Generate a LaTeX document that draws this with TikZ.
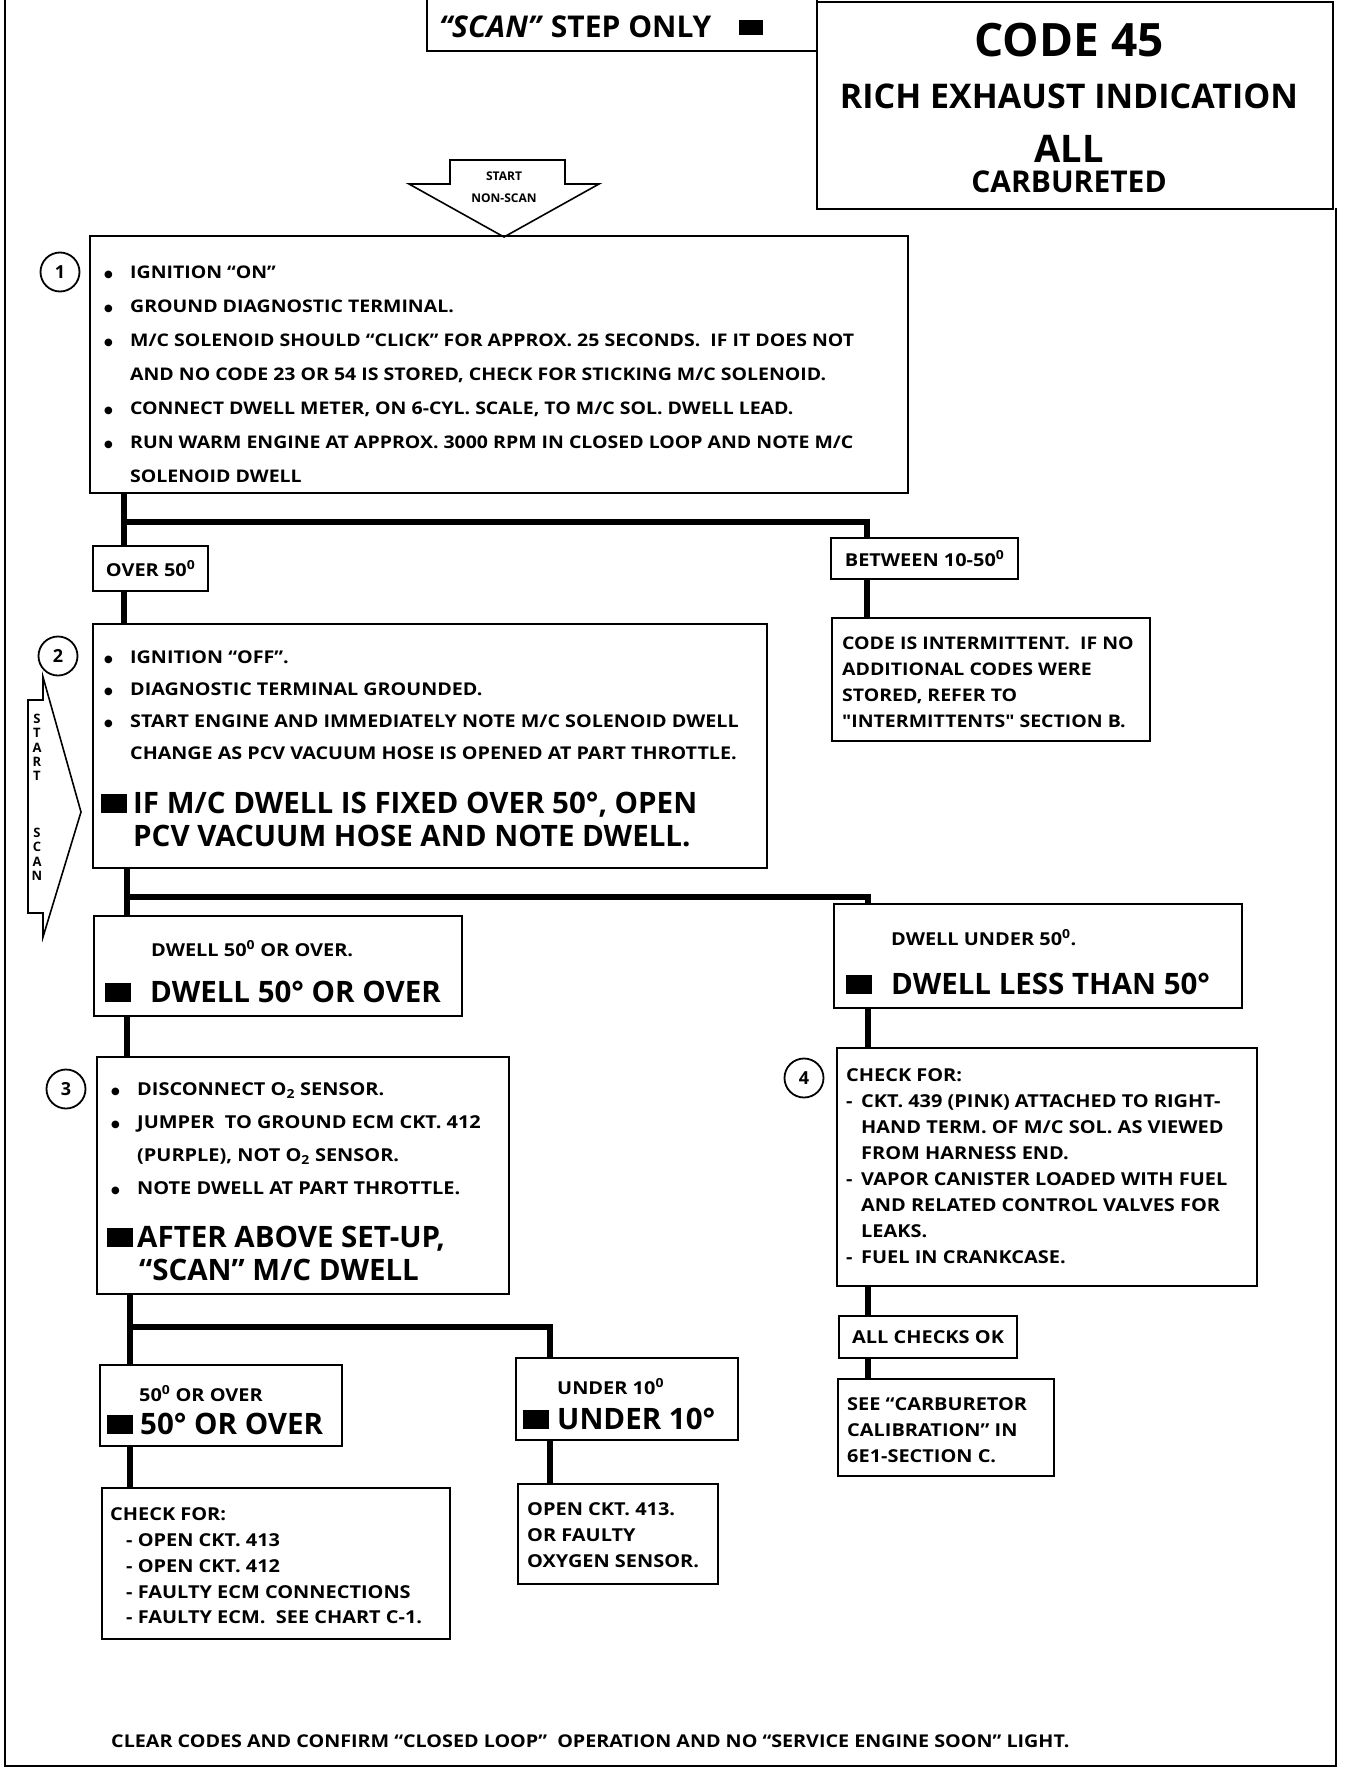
\documentclass[tikz,border=0pt]{standalone}
\usepackage{fontspec}
\setmainfont{Open Sans}
\newfontfamily\widesans{Open Sans}[FakeStretch=1.12]
\newfontfamily\symfont{DejaVu Sans}
\usetikzlibrary{positioning}
\newcommand\cfz[2]{\bfseries\fontsize{#1}{#2}\selectfont}
\newcommand\wfz[2]{\widesans\bfseries\fontsize{#1}{#2}\selectfont}
\newcommand\cbul{\makebox[26pt][l]{\raisebox{1pt}{\symfont\fontsize{10}{10}\selectfont ●}}}
\newcommand\cind{\makebox[26pt]{}}
\newcommand\cdash{\makebox[15pt][l]{-}}
\newcommand\cblk{\rule{26pt}{19pt}}
\newcommand\cdeg{\textsuperscript{0}}

\begin{document}
\begin{tikzpicture}[x=1pt,y=-1pt,
    frame/.style={draw,line width=2.2pt,inner sep=0pt,anchor=north west},
    lbl/.style={anchor=north west,align=left,inner sep=0pt,font=\wfz{17.8}{34}},
    big/.style={anchor=north west,align=left,inner sep=0pt,font=\cfz{29.5}{33}},
    num/.style={draw,circle,line width=1.8pt,minimum size=39pt,inner sep=0pt,font=\cfz{18}{18}},
    link/.style={line width=6pt},
    outline/.style={line width=1.6pt,line join=miter}
  ]
  \useasboundingbox (0,0) rectangle (1344,1772);

  % header
  \node[frame,minimum width=390pt,minimum height=53pt] (scanbox) at (426,-3) {};
  \node[anchor=west,inner sep=0pt,font=\cfz{30}{30}] (scantxt) at (439,27)
    {\textit{“SCAN”} STEP ONLY\hspace{28pt}\raisebox{3pt}{\rule{24pt}{15pt}}};
  \node[frame,minimum width=516pt,minimum height=207pt] (title) at (816,1) {};
  \node[font=\cfz{46}{46}] (code) at (1069,40) {CODE 45};
  \node[font=\cfz{34}{34}] (rich) at (1069,96) {RICH EXHAUST INDICATION};
  \node[font=\cfz{38}{38}] (all) at (1069,149) {ALL};
  \node[font=\cfz{30}{30}] (carb) at (1069,182) {CARBURETED};
  \draw[line width=2.5pt] (5,0) -- (5,1766) -- (1336,1766) -- (1336,208);

  % start arrows
  \draw[outline] (450,184) -- (450,160) -- (565,160) -- (565,184) -- (599,184)
    -- (504,237) -- (409,184) -- cycle;
  \node[font=\cfz{12}{12}] (start) at (504,176) {START};
  \node[font=\cfz{12}{12}] (nonscan) at (504,198) {NON-SCAN};
  \draw[outline] (43,677) -- (43,700) -- (28,700) -- (28,913) -- (43,913)
    -- (43,937) -- (81,812) -- cycle;
  \node[anchor=north,align=center,inner sep=0pt,font=\cfz{13}{14.2}] (scan) at (37,714)
    {S\\T\\A\\R\\T\\[43pt]S\\C\\A\\N};

  % step 1
  \node[frame,minimum width=818pt,minimum height=257pt] (s1) at (89,235) {};
  \node[num] (n1) at (60,272) {1};
  \node[lbl,font=\wfz{17.4}{34}] (t1) at (104,265.8) {\cbul IGNITION “ON”\\
    \cbul GROUND DIAGNOSTIC TERMINAL.\\
    \cbul M/C SOLENOID SHOULD “CLICK” FOR APPROX. 25 SECONDS.\ \ IF IT DOES NOT\\
    \cind AND NO CODE 23 OR 54 IS STORED, CHECK FOR STICKING M/C SOLENOID.\\
    \cbul CONNECT DWELL METER, ON 6-CYL. SCALE, TO M/C SOL. DWELL LEAD.\\
    \cbul RUN WARM ENGINE AT APPROX. 3000 RPM IN CLOSED LOOP AND NOTE M/C\\
    \cind SOLENOID DWELL};
  \coordinate (j1) at (124,522);
  \coordinate (j1r) at (867,522);
  \node[frame,minimum width=115pt,minimum height=45pt,font=\wfz{17.8}{18}] (over) at (92,545) {OVER 50\cdeg};
  \node[frame,minimum width=187pt,minimum height=41pt,font=\wfz{17.8}{18}] (betw) at (830,537) {BETWEEN 10-50\cdeg};
  \node[frame,minimum width=318pt,minimum height=123pt] (inter) at (831,617) {};
  \node[lbl,font=\wfz{17.4}{26}] (tint) at (842,636.6) {CODE IS INTERMITTENT.\ \ IF NO\\
    ADDITIONAL CODES WERE\\STORED, REFER TO\\"INTERMITTENTS" SECTION B.};
  \draw[link] (s1.south -| j1) -- (over.north -| j1);
  \draw[link] (j1) -- (j1r) -- (betw.north -| j1r);
  \draw[link] (betw.south -| j1r) -- (inter.north -| j1r);

  % step 2
  \node[frame,minimum width=674pt,minimum height=244pt] (s2) at (92,623) {};
  \node[num] (n2) at (58,656) {2};
  \node[lbl,font=\wfz{17.6}{32}] (t2) at (104,650.6) {\cbul IGNITION “OFF”.\\
    \cbul DIAGNOSTIC TERMINAL GROUNDED.\\
    \cbul START ENGINE AND IMMEDIATELY NOTE M/C SOLENOID DWELL\\
    \cind CHANGE AS PCV VACUUM HOSE IS OPENED AT PART THROTTLE.};
  \node[big] (t2b) at (101,791.6) {\makebox[32pt][l]{\cblk}IF M/C DWELL IS FIXED OVER 50°, OPEN\\
    \makebox[32pt]{}PCV VACUUM HOSE AND NOTE DWELL.};
  \draw[link] (over.south -| j1) -- (s2.north -| j1);
  \coordinate (j2) at (127,897);
  \coordinate (j2r) at (868,897);
  \node[frame,minimum width=368pt,minimum height=100pt] (d50) at (93,915) {};
  \node[lbl] (d50a) at (151,940.6) {DWELL 50\cdeg{} OR OVER.};
  \node[big] (d50b) at (105,980.6) {\makebox[45pt][l]{\cblk}DWELL 50° OR OVER};
  \node[frame,minimum width=408pt,minimum height=104pt] (dlt) at (833,903) {};
  \node[lbl] (dlta) at (891,929.6) {DWELL UNDER 50\cdeg.};
  \node[big] (dltb) at (846,972.6) {\makebox[45pt][l]{\cblk}DWELL LESS THAN 50°};
  \draw[link] (s2.south -| j2) -- (d50.north -| j2);
  \draw[link] (j2) -- (j2r) -- (dlt.north -| j2r);

  % step 3
  \node[frame,minimum width=412pt,minimum height=237pt] (s3) at (96,1056) {};
  \node[num] (n3) at (66,1089) {3};
  \node[lbl,font=\wfz{17.8}{33}] (t3) at (111,1082.6) {\cbul DISCONNECT O\textsubscript{2} SENSOR.\\
    \cbul JUMPER\ \ TO GROUND ECM CKT. 412\\
    \cind (PURPLE), NOT O\textsubscript{2} SENSOR.\\
    \cbul NOTE DWELL AT PART THROTTLE.};
  \node[big] (t3b) at (107,1225.6) {\makebox[30pt][l]{\cblk}AFTER ABOVE SET-UP,\\
    \makebox[32pt]{}“SCAN” M/C DWELL};
  \draw[link] (d50.south -| j2) -- (s3.north -| j2);
  \coordinate (j3) at (130,1327);
  \coordinate (j3r) at (550,1327);
  \node[frame,minimum width=242pt,minimum height=81pt] (o50) at (99,1364) {};
  \node[lbl] (o50a) at (139,1385.6) {50\cdeg{} OR OVER};
  \node[big] (o50b) at (107,1412.6) {\makebox[33pt][l]{\cblk}50° OR OVER};
  \node[frame,minimum width=222pt,minimum height=82pt] (u10) at (515,1357) {};
  \node[lbl] (u10a) at (557,1378.6) {UNDER 10\cdeg};
  \node[big] (u10b) at (523,1407.6) {\makebox[34pt][l]{\cblk}UNDER 10°};
  \node[frame,minimum width=348pt,minimum height=151pt] (chk) at (101,1487) {};
  \node[lbl,font=\wfz{17.8}{25.8}] (tchk) at (110,1507.6) {CHECK FOR:\\
    \makebox[16pt]{}- OPEN CKT. 413\\
    \makebox[16pt]{}- OPEN CKT. 412\\
    \makebox[16pt]{}- FAULTY ECM CONNECTIONS\\
    \makebox[16pt]{}- FAULTY ECM.\ \ SEE CHART C-1.};
  \node[frame,minimum width=200pt,minimum height=100pt] (ock) at (517,1483) {};
  \node[lbl,font=\wfz{17.8}{26}] (tock) at (527,1502.6) {OPEN CKT. 413.\\OR FAULTY\\OXYGEN SENSOR.};
  \draw[link] (s3.south -| j3) -- (o50.north -| j3);
  \draw[link] (j3) -- (j3r) -- (u10.north -| j3r);
  \draw[link] (o50.south -| j3) -- (chk.north -| j3);
  \draw[link] (u10.south -| j3r) -- (ock.north -| j3r);

  % step 4
  \node[frame,minimum width=420pt,minimum height=238pt] (s4) at (836,1047) {};
  \node[num] (n4) at (804,1078) {4};
  \node[lbl,font=\wfz{17.8}{25.9}] (t4) at (846,1068.6) {CHECK FOR:\\
    \cdash CKT. 439 (PINK) ATTACHED TO RIGHT-\\
    \makebox[15pt]{}HAND TERM. OF M/C SOL. AS VIEWED\\
    \makebox[15pt]{}FROM HARNESS END.\\
    \cdash VAPOR CANISTER LOADED WITH FUEL\\
    \makebox[15pt]{}AND RELATED CONTROL VALVES FOR\\
    \makebox[15pt]{}LEAKS.\\
    \cdash FUEL IN CRANKCASE.};
  \node[frame,minimum width=178pt,minimum height=42pt,font=\wfz{17.8}{18}] (allok) at (838,1315) {ALL CHECKS OK};
  \node[frame,minimum width=216pt,minimum height=97pt] (see) at (837,1378) {};
  \node[lbl,font=\wfz{17.8}{26}] (tsee) at (847,1397.6) {SEE “CARBURETOR\\CALIBRATION” IN\\6E1-SECTION C.};
  \draw[link] (dlt.south -| j2r) -- (s4.north -| j2r);
  \draw[link] (s4.south -| j2r) -- (allok.north -| j2r);
  \draw[link] (allok.south -| j2r) -- (see.north -| j2r);

  % footer
  \node[lbl,font=\wfz{17.6}{18}] (foot) at (111,1734.6) {CLEAR CODES AND CONFIRM “CLOSED LOOP”\ \ OPERATION AND NO “SERVICE ENGINE SOON” LIGHT.};
\end{tikzpicture}
\end{document}
